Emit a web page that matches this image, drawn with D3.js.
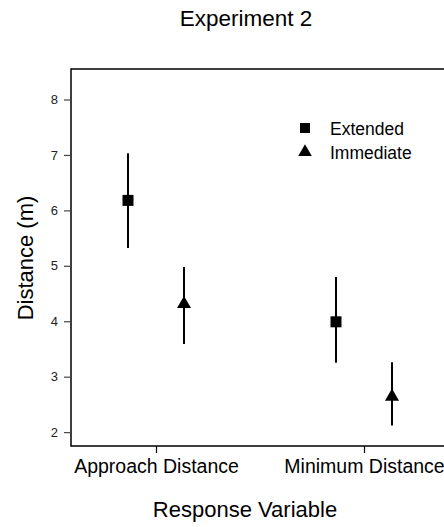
<!DOCTYPE html>
<html><head><meta charset="utf-8">
<script src="https://cdn.jsdelivr.net/npm/d3@7"></script>
<style>
body{margin:0;background:#fff;}
svg{display:block;font-family:"Liberation Sans",Arial,sans-serif;}
</style></head>
<body>
<svg id="c" width="444" height="527"></svg>
<script>
const title = "Experiment 2";
const xTitle = "Response Variable";
const yTitle = "Distance (m)";
const categories = ["Approach Distance", "Minimum Distance"];
const seriesNames = ["Extended", "Immediate"];
const extendedMean = [6.18, 3.99];
const extendedLow = [5.32, 3.25];
const extendedHigh = [7.03, 4.80];
const immediateMean = [4.31, 2.64];
const immediateLow = [3.59, 2.12];
const immediateHigh = [4.98, 3.26];
const yTicks = [2, 3, 4, 5, 6, 7, 8];

const svg = d3.select("#c");
const mLeft = 71, mTop = 69, mBottom = 446, mRight = 470;

const x = d3.scalePoint().domain(categories).range([156, 364]);
const off = d3.scalePoint().domain(seriesNames).range([-28, 28]);
const y = d3.scaleLinear().domain([1.75, 8.55]).range([mBottom, mTop]);

const series = [
  {name: "Extended", mean: extendedMean, lo: extendedLow, hi: extendedHigh, shape: d3.symbolSquare, size: 121},
  {name: "Immediate", mean: immediateMean, lo: immediateLow, hi: immediateHigh, shape: d3.symbolTriangle, size: 85}
];

// frame
svg.append("path")
  .attr("d", `M${mRight},${mTop}H${mLeft}V${mBottom}H${mRight}`)
  .attr("fill", "none").attr("stroke", "#000").attr("stroke-width", 1.5);

// y axis
const ya = svg.append("g").attr("transform", `translate(${mLeft},0)`)
  .call(d3.axisLeft(y).tickValues(yTicks).tickSize(7).tickPadding(6).tickFormat(d3.format("d")));
ya.select(".domain").remove();
ya.selectAll("line").attr("stroke", "#444").attr("stroke-width", 1.2);
ya.selectAll("text").attr("font-size", 13).attr("font-family", "Liberation Sans, Arial, sans-serif").attr("fill", "#222");

// x axis
const xa = svg.append("g").attr("transform", `translate(0,${mBottom})`)
  .call(d3.axisBottom(x).tickSize(7).tickPadding(6));
xa.select(".domain").remove();
xa.selectAll("line").attr("stroke", "#000").attr("stroke-width", 1.2);
xa.selectAll("text").attr("font-size", 19.5).attr("font-family", "Liberation Sans, Arial, sans-serif").attr("fill", "#000");

// data
series.forEach(s => {
  const g = svg.append("g");
  categories.forEach((c, i) => {
    const cx = x(c) + off(s.name);
    g.append("line").attr("x1", cx).attr("x2", cx)
      .attr("y1", y(s.lo[i])).attr("y2", y(s.hi[i]))
      .attr("stroke", "#000").attr("stroke-width", 2);
    g.append("path").attr("d", d3.symbol().type(s.shape).size(s.size)())
      .attr("transform", `translate(${cx},${y(s.mean[i])})`)
      .attr("fill", "#000");
  });
});

// legend
const lg = svg.append("g");
series.forEach((s, i) => {
  const ly = 128 + i * 24;
  lg.append("path").attr("d", d3.symbol().type(s.shape).size(i === 0 ? 100 : 80)())
    .attr("transform", `translate(305,${ly})`).attr("fill", "#000");
  lg.append("text").attr("x", 330).attr("y", ly + 2).attr("font-size", 17.5)
    .attr("dominant-baseline", "middle").text(s.name);
});

// titles
svg.append("text").attr("x", 246).attr("y", 26).attr("text-anchor", "middle")
  .attr("font-size", 22.5).text(title);
svg.append("text").attr("x", 245).attr("y", 517).attr("text-anchor", "middle")
  .attr("font-size", 22).text(xTitle);
svg.append("text").attr("transform", "translate(33,258) rotate(-90)")
  .attr("text-anchor", "middle").attr("font-size", 22).text(yTitle);
</script>
</body></html>
